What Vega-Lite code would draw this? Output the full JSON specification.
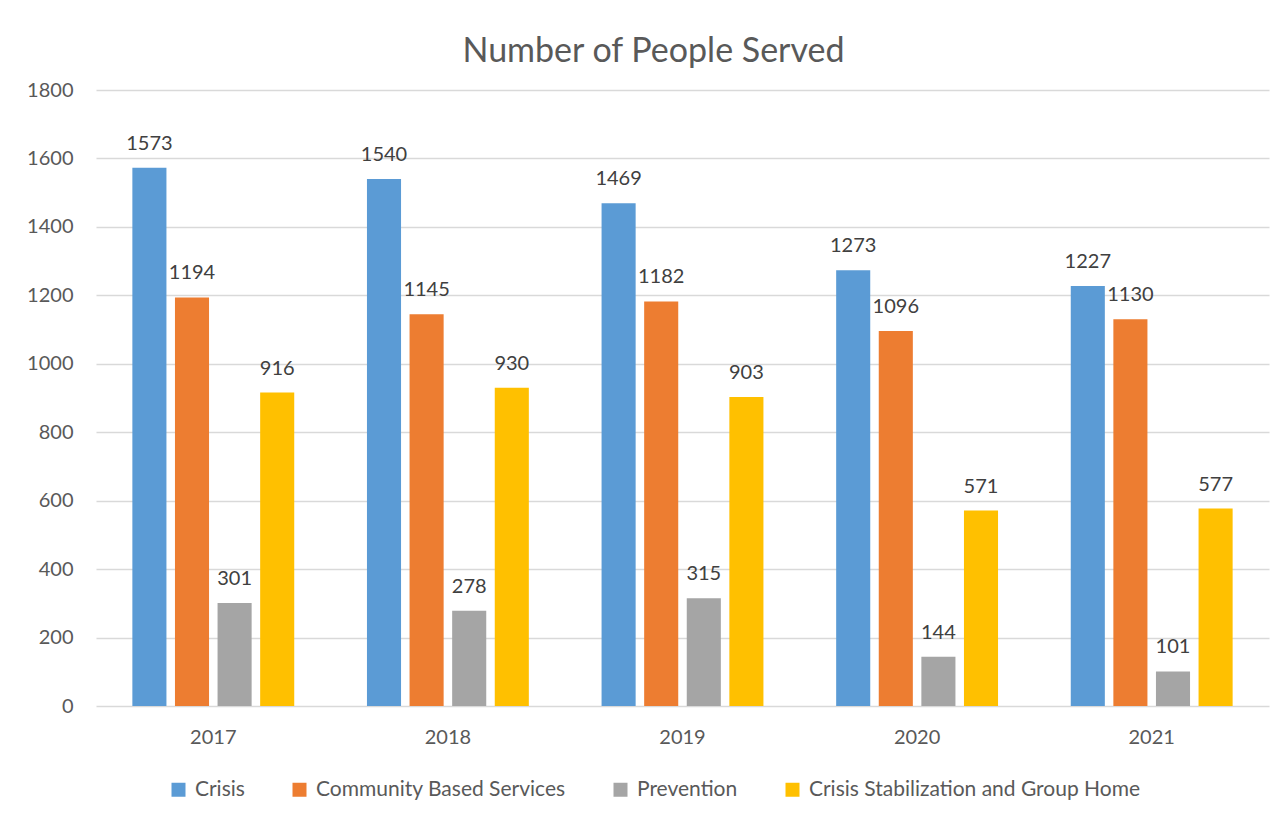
{
  "$schema": "https://vega.github.io/schema/vega-lite/v6.json",
  "width": 1173,
  "height": 616,
  "autosize": {"type": "none"},
  "padding": {"left": 96, "top": 90, "right": 14, "bottom": 118},
  "background": "white",
  "config": {
    "font": "Lato",
    "view": {"stroke": null},
    "axis": {"labelFont": "Lato", "labelColor": "#595959", "labelFontSize": 20, "title": null}
  },
  "title": {
    "text": "Number of People Served",
    "fontSize": 34,
    "font": "Lato",
    "fontWeight": "normal",
    "color": "#595959",
    "anchor": "middle",
    "dx": -29,
    "offset": 11
  },
  "data": {
    "values": [
      {"year": "2017", "series": "Crisis", "value": 1573},
      {"year": "2017", "series": "Community Based Services", "value": 1194},
      {"year": "2017", "series": "Prevention", "value": 301},
      {"year": "2017", "series": "Crisis Stabilization and Group Home", "value": 916},
      {"year": "2018", "series": "Crisis", "value": 1540},
      {"year": "2018", "series": "Community Based Services", "value": 1145},
      {"year": "2018", "series": "Prevention", "value": 278},
      {"year": "2018", "series": "Crisis Stabilization and Group Home", "value": 930},
      {"year": "2019", "series": "Crisis", "value": 1469},
      {"year": "2019", "series": "Community Based Services", "value": 1182},
      {"year": "2019", "series": "Prevention", "value": 315},
      {"year": "2019", "series": "Crisis Stabilization and Group Home", "value": 903},
      {"year": "2020", "series": "Crisis", "value": 1273},
      {"year": "2020", "series": "Community Based Services", "value": 1096},
      {"year": "2020", "series": "Prevention", "value": 144},
      {"year": "2020", "series": "Crisis Stabilization and Group Home", "value": 571},
      {"year": "2021", "series": "Crisis", "value": 1227},
      {"year": "2021", "series": "Community Based Services", "value": 1130},
      {"year": "2021", "series": "Prevention", "value": 101},
      {"year": "2021", "series": "Crisis Stabilization and Group Home", "value": 577}
    ]
  },
  "encoding": {
    "x": {
      "field": "year",
      "type": "nominal",
      "scale": {"paddingInner": 0.31, "paddingOuter": 0.155},
      "axis": {"labelAngle": 0, "domain": false, "ticks": false, "labelPadding": 21}
    },
    "xOffset": {
      "field": "series",
      "type": "nominal",
      "sort": ["Crisis", "Community Based Services", "Prevention", "Crisis Stabilization and Group Home"],
      "scale": {"paddingInner": 0.2, "paddingOuter": 0}
    },
    "y": {
      "field": "value",
      "type": "quantitative",
      "scale": {"domain": [0, 1800], "nice": false},
      "axis": {
        "values": [0, 200, 400, 600, 800, 1000, 1200, 1400, 1600, 1800],
        "format": "d",
        "domain": false,
        "ticks": false,
        "labelPadding": 23,
        "gridColor": "#D9D9D9",
        "gridWidth": 1.5
      }
    }
  },
  "layer": [
    {
      "mark": {"type": "bar"},
      "encoding": {
        "color": {
          "field": "series",
          "type": "nominal",
          "sort": ["Crisis", "Community Based Services", "Prevention", "Crisis Stabilization and Group Home"],
          "scale": {
            "domain": ["Crisis", "Community Based Services", "Prevention", "Crisis Stabilization and Group Home"],
            "range": ["#5B9BD5", "#ED7D31", "#A5A5A5", "#FFC000"]
          },
          "legend": {
            "title": null,
            "orient": "none",
            "direction": "horizontal",
            "legendX": 72,
            "legendY": 689,
            "symbolType": "square",
            "symbolSize": 196,
            "symbolStrokeWidth": 0,
            "labelFont": "Lato",
            "labelFontSize": 21,
            "labelColor": "#595959",
            "labelOffset": 6,
            "columnPadding": 44,
            "labelLimit": 500
          }
        }
      }
    },
    {
      "mark": {"type": "text", "baseline": "alphabetic", "dy": -18, "fontSize": 20, "color": "#404040", "font": "Lato"},
      "encoding": {"text": {"field": "value", "type": "quantitative"}}
    }
  ]
}
